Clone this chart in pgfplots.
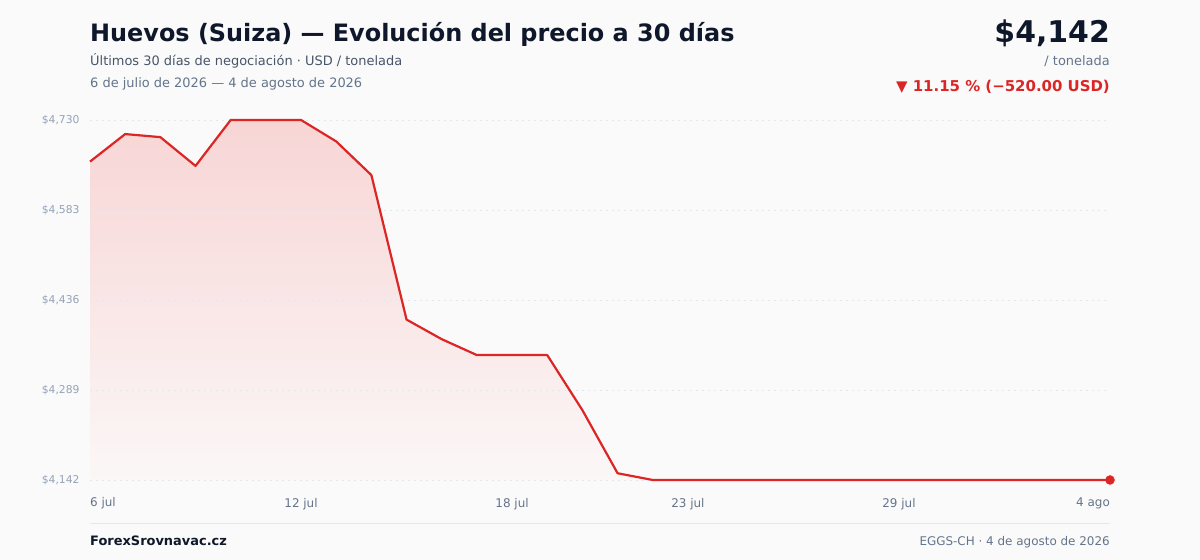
\documentclass[border=0pt]{standalone}
\usepackage{fontspec}
\setmainfont{DejaVu Sans}
\usepackage{pgfplots}
\usepackage{pgfplotstable}
\pgfplotsset{compat=1.18}
\definecolor{bg}{HTML}{FAFAFA}
\definecolor{linered}{HTML}{DC2626}
\definecolor{titlec}{HTML}{0F172A}
\definecolor{subc}{HTML}{475569}
\definecolor{muted}{HTML}{64748B}
\definecolor{ytc}{HTML}{94A3B8}
\definecolor{gridc}{HTML}{E2E8F0}
\definecolor{sepc}{HTML}{E5E7EB}
\definecolor{filltop}{HTML}{F8D5D5}
\definecolor{fillbot}{HTML}{FBF7F7}

\pgfplotstableread{
d p
0 4662
1 4707
2 4702
3 4655
4 4730
5 4730
6 4730
7 4695
8 4640
9 4404
10 4372
11 4346
12 4346
13 4346
14 4256
15 4153
16 4142
17 4142
18 4142
19 4142
20 4142
21 4142
22 4142
23 4142
24 4142
25 4142
26 4142
27 4142
28 4142
29 4142
}\pricedata

% same series, with the baseline corner (0,4142) at its start so that it closes as an area
\pgfplotstableread{
d p
0 4142
0 4662
1 4707
2 4702
3 4655
4 4730
5 4730
6 4730
7 4695
8 4640
9 4404
10 4372
11 4346
12 4346
13 4346
14 4256
15 4153
16 4142
29 4142
}\areadata

\newcommand{\fs}[1]{\fontsize{#1}{#1}\selectfont}
\begin{document}
\pagecolor{bg}%
\begin{tikzpicture}[x=1bp,y=1bp]
\path (0,0) rectangle (1200,560);

% header
\node[anchor=base west, inner sep=0, text=titlec, font=\fs{24}\bfseries] at (90,560-42) {Huevos (Suiza) — Evolución del precio a 30 días};
\node[anchor=base west, inner sep=0, text=subc, font=\fs{13}] at (90,560-66) {Últimos 30 días de negociación · USD / tonelada};
\node[anchor=base west, inner sep=0, text=muted, font=\fs{13}] at (90,560-88) {6 de julio de 2026 — 4 de agosto de 2026};

\node[anchor=base east, inner sep=0, text=titlec, font=\fs{30}\bfseries] at (1110,560-43) {\$4,142};
\node[anchor=base east, inner sep=0, text=muted, font=\fs{13}] at (1110,560-66) {/ tonelada};
\node[anchor=base east, inner sep=0, text=linered, font=\fs{15}\bfseries] at (1110,560-92) {▼ 11.15 \% (−520.00 USD)};

\begin{axis}[
  at={(90bp,80bp)}, anchor=south west,
  scale only axis, width=1020bp, height=360bp,
  set layers=standard,
  xmin=0, xmax=29, ymin=4142, ymax=4730,
  clip=false,
  axis line style={draw=none},
  tick style={draw=none},
  major tick length=0pt,
  ytick={4142,4289,4436,4583,4730},
  yticklabels={{\$4,142},{\$4,289},{\$4,436},{\$4,583},{\$4,730}},
  yticklabel style={font=\fs{10.8}, text=ytc, anchor=east, xshift=-7bp},
  xtick={6,12,17,23},
  xticklabels={12 jul,18 jul,23 jul,29 jul},
  xticklabel style={font=\fs{12}, text=muted, anchor=base, yshift=-28bp},
  ymajorgrids,
  major grid style={gridc, line width=0.9bp, dash pattern=on 2bp off 4bp},
]
\addplot[on layer=axis background, draw=none, top color=filltop, bottom color=fillbot, forget plot] table[x=d,y=p] {\areadata};
\addplot[linered, line width=2.2bp, line join=round, mark=none] table[x=d,y=p] {\pricedata};
\addplot[only marks, mark=*, mark size=4.5bp, mark options={fill=linered, draw=none}, color=linered] coordinates {(29,4142)};
\node[anchor=base west, inner sep=0, text=muted, font=\fs{12}] at (axis cs:0,4142) [yshift=-27bp] {6 jul};
\node[anchor=base east, inner sep=0, text=muted, font=\fs{12}] at (axis cs:29,4142) [yshift=-27bp] {4 ago};
\end{axis}

% footer
\draw[sepc, line width=1bp] (90,560-523.5) -- (1110,560-523.5);
\node[anchor=base west, inner sep=0, text=titlec, font=\fs{13}\bfseries] at (90,560-546) {ForexSrovnavac.cz};
\node[anchor=base east, inner sep=0, text=muted, font=\fs{12}] at (1110,560-546) {EGGS-CH · 4 de agosto de 2026};
\pgfresetboundingbox
\path (0,0) rectangle (1200,560);
\end{tikzpicture}
\end{document}
